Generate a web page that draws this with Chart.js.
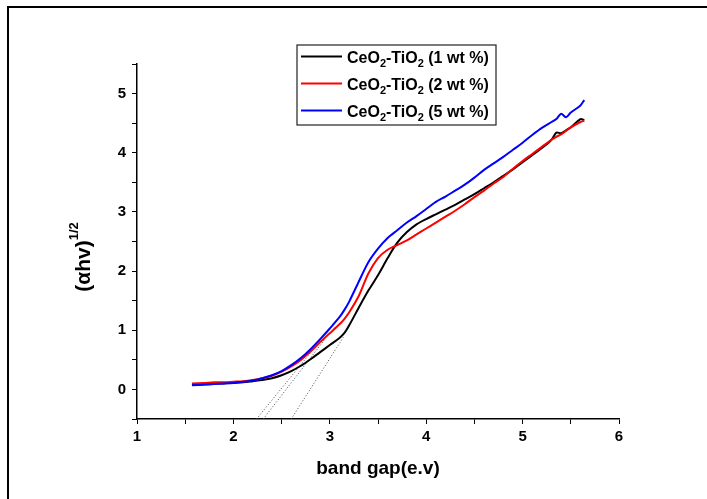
<!DOCTYPE html>
<html>
<head>
<meta charset="utf-8">
<script src="https://cdn.jsdelivr.net/npm/chart.js@4.4.1/dist/chart.umd.min.js"></script>
<style>
  html, body { margin: 0; padding: 0; background: #fff; }
  #wrap { width: 707px; height: 499px; }
</style>
</head>
<body>
<div id="wrap"><canvas id="cBand"></canvas></div>
<script>
// ---- data ----
const bandGap = [1.57, 1.7, 1.8, 1.9, 2.0, 2.1, 2.2, 2.3, 2.4, 2.5, 2.6, 2.7, 2.8, 2.9, 3.0, 3.1, 3.15, 3.2, 3.3, 3.4,
  3.5, 3.6, 3.7, 3.8, 3.9, 4.0, 4.1, 4.2, 4.3, 4.4, 4.5, 4.6, 4.7, 4.8, 4.9, 5.0, 5.1, 5.2, 5.3, 5.35, 5.4, 5.45, 5.5, 5.6, 5.64];
const wt1 = [0.08, 0.09, 0.10, 0.10, 0.11, 0.12, 0.14, 0.16, 0.19, 0.24, 0.31, 0.40, 0.51, 0.63, 0.75, 0.87, 0.95, 1.08, 1.38, 1.67,
  1.93, 2.22, 2.48, 2.66, 2.79, 2.88, 2.96, 3.04, 3.12, 3.21, 3.30, 3.40, 3.50, 3.61, 3.72, 3.84, 3.96, 4.08, 4.22, 4.34, 4.33, 4.38, 4.43, 4.57, 4.55];
const wt2 = [0.10, 0.11, 0.12, 0.12, 0.13, 0.14, 0.16, 0.19, 0.23, 0.30, 0.39, 0.50, 0.64, 0.80, 0.95, 1.10, 1.19, 1.30, 1.58, 1.96,
  2.22, 2.36, 2.44, 2.52, 2.62, 2.72, 2.82, 2.92, 3.02, 3.13, 3.25, 3.36, 3.48, 3.59, 3.73, 3.86, 3.98, 4.10, 4.22, 4.27, 4.31, 4.37, 4.43, 4.52, 4.54];
const wt5 = [0.07, 0.08, 0.09, 0.10, 0.11, 0.13, 0.15, 0.19, 0.24, 0.31, 0.41, 0.53, 0.68, 0.85, 1.03, 1.22, 1.34, 1.48, 1.82, 2.15,
  2.38, 2.56, 2.69, 2.82, 2.93, 3.05, 3.17, 3.26, 3.36, 3.46, 3.58, 3.71, 3.82, 3.93, 4.05, 4.17, 4.30, 4.42, 4.52, 4.57, 4.66, 4.60, 4.68, 4.80, 4.89];

// tangent (extrapolation) lines, end points
const fit1X = [2.60, 3.14], fit1Y = [-0.5, 0.88];
const fit2X = [2.31, 2.95], fit2Y = [-0.5, 0.85];
const fit5X = [2.24, 2.90], fit5Y = [-0.5, 0.82];

const seriesNames = ['1 wt %', '2 wt %', '5 wt %'];
const seriesColors = ['#000000', '#ff0000', '#0000ff'];

const FONT = "'Liberation Sans', Arial, sans-serif";
const pts = (xs, ys) => xs.map((x, i) => ({ x, y: ys[i] }));

const curve = (data, color, order) => ({
  data: pts(bandGap, data), borderColor: color, borderWidth: 2,
  pointRadius: 0, tension: 0.3, fill: false, order
});
const fitLine = (xs, ys) => ({
  data: pts(xs, ys), borderColor: '#444', borderWidth: 1, borderDash: [1, 2],
  pointRadius: 0, tension: 0, fill: false, order: 5
});

// subscripted "CeO2-TiO2 (n wt %)"
function drawFormula(ctx, x, y, tail) {
  const parts = [['CeO', 0], ['2', 1], ['-TiO', 0], ['2', 1], [' (' + tail + ')', 0]];
  parts.forEach(([t, sub]) => {
    ctx.font = (sub ? 'bold 11px ' : 'bold 16px ') + FONT;
    ctx.fillText(t, x, y + (sub ? 4 : 0));
    x += ctx.measureText(t).width;
  });
}

const decor = {
  id: 'decor',
  afterDraw(chart) {
    const { ctx, chartArea: a } = chart;
    ctx.save();
    // outer frame (top + left)
    ctx.strokeStyle = '#000'; ctx.lineWidth = 2;
    ctx.beginPath(); ctx.moveTo(8, 499); ctx.lineTo(8, 7); ctx.lineTo(707, 7); ctx.stroke();

    ctx.fillStyle = '#000';
    // x title
    ctx.font = 'bold 19px ' + FONT; ctx.textAlign = 'center'; ctx.textBaseline = 'middle';
    ctx.fillText('band gap(e.v)', (a.left + a.right) / 2, 469);

    // y title (αhv)^1/2
    ctx.translate(84, 257); ctx.rotate(-Math.PI / 2);
    ctx.textAlign = 'left';
    ctx.font = 'bold 21px ' + FONT; const w1 = ctx.measureText('(\u03b1hv)').width;
    ctx.font = 'bold 13px ' + FONT; const w2 = ctx.measureText('1/2').width;
    ctx.font = 'bold 21px ' + FONT; ctx.fillText('(\u03b1hv)', -(w1 + w2) / 2, 0);
    ctx.font = 'bold 13px ' + FONT; ctx.fillText('1/2', -(w1 + w2) / 2 + w1, -10);
    ctx.setTransform(1, 0, 0, 1, 0, 0);

    // legend
    ctx.strokeStyle = '#222'; ctx.lineWidth = 1.2;
    ctx.strokeRect(297, 45, 199, 80);
    ctx.textBaseline = 'alphabetic'; ctx.textAlign = 'left';
    [56.5, 83.5, 110.5].forEach((ry, i) => {
      ctx.strokeStyle = seriesColors[i]; ctx.lineWidth = 2;
      ctx.beginPath(); ctx.moveTo(301, ry); ctx.lineTo(342, ry); ctx.stroke();
      ctx.fillStyle = '#000';
      drawFormula(ctx, 347, ry + 6, seriesNames[i]);
    });
    ctx.restore();
  }
};

const tickFont = { family: FONT, size: 15, weight: 'bold' };
const axisCommon = {
  type: 'linear',
  border: { color: '#000', width: 1.5 },
  grid: { drawOnChartArea: false, drawTicks: true, tickLength: 5, color: '#000', lineWidth: 1 },
};

new Chart(document.getElementById('cBand'), {
  type: 'line',
  data: {
    datasets: [
      curve(wt1, seriesColors[0], 3),
      curve(wt2, seriesColors[1], 2),
      curve(wt5, seriesColors[2], 1),
      fitLine(fit1X, fit1Y),
      fitLine(fit2X, fit2Y),
      fitLine(fit5X, fit5Y)
    ]
  },
  options: {
    responsive: true, maintainAspectRatio: false, animation: false,
    layout: { padding: { left: 0, top: 64, right: 88, bottom: 0 } },
    plugins: { legend: { display: false }, tooltip: { enabled: false } },
    scales: {
      x: {
        ...axisCommon, min: 1, max: 6,
        afterFit: s => { s.height = 80; },
        ticks: {
          stepSize: 0.5, autoSkip: false, maxRotation: 0, color: '#000', font: tickFont, padding: 4,
          callback: v => Number.isInteger(v) ? String(v) : ''
        }
      },
      y: {
        ...axisCommon, min: -0.5, max: 5.5,
        afterFit: s => { s.width = 137; },
        ticks: {
          stepSize: 0.5, autoSkip: false, color: '#000', font: tickFont, padding: 6,
          callback: v => Number.isInteger(v) ? String(v) : ''
        }
      }
    }
  },
  plugins: [decor]
});
</script>
</body>
</html>
